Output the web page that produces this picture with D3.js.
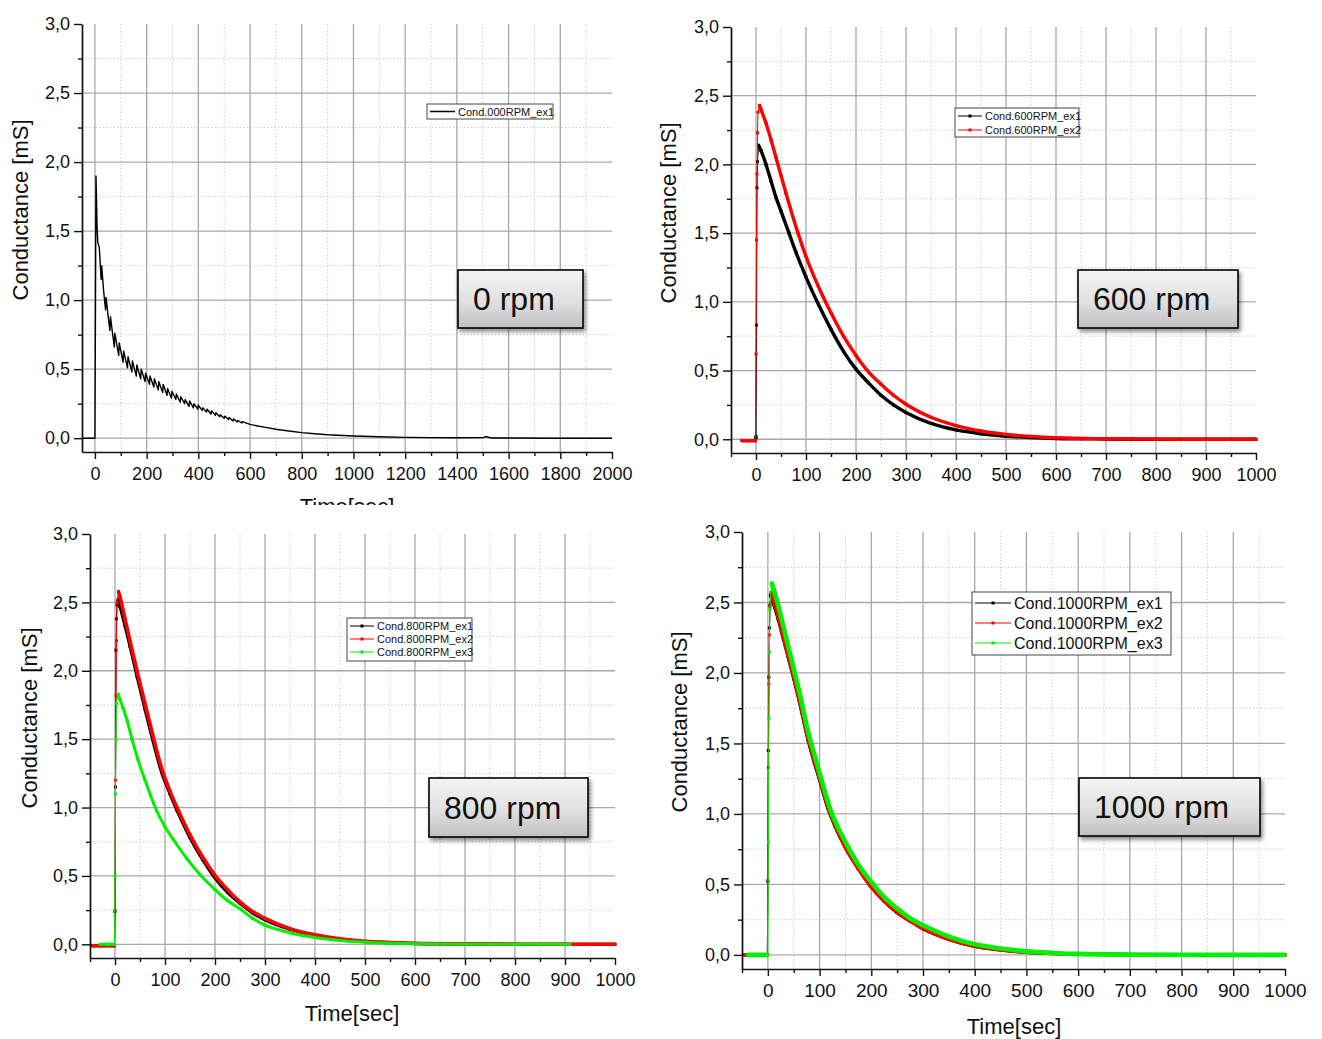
<!DOCTYPE html>
<html>
<head>
<meta charset="utf-8">
<script src="https://cdn.jsdelivr.net/npm/d3@7"></script>
<style>
  body { margin: 0; background: #fff; }
  svg { display: block; }
  text { font-family: "Liberation Sans", Arial, sans-serif; fill: #111; }
</style>
</head>
<body>
<svg id="chart" width="1322" height="1039"></svg>
<script>
// ---------- tick values and labels ----------
const yTicks = [0, 0.5, 1.0, 1.5, 2.0, 2.5, 3.0];
const yTickLabels = ["0,0", "0,5", "1,0", "1,5", "2,0", "2,5", "3,0"];
const yMinorTicks = [0.25, 0.75, 1.25, 1.75, 2.25, 2.75];
const xTicksLong = [0, 200, 400, 600, 800, 1000, 1200, 1400, 1600, 1800, 2000];
const xMinorLong = [100, 300, 500, 700, 900, 1100, 1300, 1500, 1700, 1900];
const xTicksShort = [0, 100, 200, 300, 400, 500, 600, 700, 800, 900, 1000];
const xMinorShort = [-50, 50, 150, 250, 350, 450, 550, 650, 750, 850, 950];

// ---------- 0 rpm, experiment 1 ----------
const t000ex1 = [-50, -20, 0, 2, 4, 6, 8, 11, 14, 17, 20, 24, 26, 33, 41, 43, 50, 58, 60, 75, 77, 92, 94,
  109, 111, 126, 128, 143, 145, 160, 162, 177, 179, 194, 196, 211, 213, 228, 230, 245, 247, 262, 264,
  279, 281, 296, 298, 313, 315, 330, 332, 347, 349, 364, 366, 381, 383, 398, 400, 415, 417, 432, 434,
  449, 451, 466, 468, 483, 485, 500, 502, 517, 519, 534, 536, 551, 553, 568, 570, 600, 630, 660, 700,
  750, 800, 850, 900, 1000, 1100, 1200, 1300, 1400, 1500, 1515, 1525, 1540, 1600, 1800, 2000];
const c000ex1 = [0, 0, 0, 0.9, 1.9, 1.75, 1.55, 1.42, 1.40, 1.38, 1.28, 1.15, 1.25, 1.08, 0.93, 1.02, 0.90, 0.78, 0.88, 0.66, 0.76, 0.60, 0.69,
  0.55, 0.63, 0.51, 0.59, 0.48, 0.56, 0.45, 0.53, 0.43, 0.50, 0.41, 0.47, 0.39, 0.45, 0.37, 0.43, 0.35, 0.41, 0.33, 0.39,
  0.31, 0.36, 0.29, 0.34, 0.28, 0.32, 0.26, 0.30, 0.25, 0.28, 0.23, 0.27, 0.22, 0.25, 0.21, 0.24, 0.20, 0.22, 0.19, 0.21,
  0.175, 0.20, 0.165, 0.185, 0.155, 0.17, 0.145, 0.16, 0.135, 0.15, 0.125, 0.14, 0.117, 0.128, 0.11, 0.12, 0.10, 0.088, 0.078, 0.065,
  0.052, 0.04, 0.032, 0.025, 0.016, 0.01, 0.006, 0.004, 0.003, 0.004, 0.012, 0.005, 0.001, 0.001, 0, 0];

// ---------- 600 rpm ----------
const t600ex1 = [-28, -15, -1, 0, 1, 2, 3, 5, 10, 20, 30, 40, 50, 66, 80, 100, 125, 150, 175, 200, 225, 250, 275, 300, 350, 400, 450, 500, 550, 600, 700, 800, 900, 1000];
const c600ex1 = [-0.01, -0.01, -0.01, 0.02, 0.83, 1.83, 2.02, 2.14, 2.10, 2.0, 1.88, 1.76, 1.66, 1.50, 1.36, 1.18, 0.98, 0.80, 0.64, 0.51, 0.41, 0.32, 0.25, 0.195, 0.115, 0.068, 0.04, 0.022, 0.012, 0.006, 0.002, 0, 0, 0];
const t600ex2 = [-28, -15, -1, 0, 1, 2, 3, 4, 7, 10, 20, 30, 40, 50, 60, 84, 100, 125, 150, 175, 200, 225, 250, 275, 300, 350, 400, 450, 500, 550, 600, 700, 800, 900, 1000];
const c600ex2 = [-0.01, -0.01, -0.01, 0.62, 1.45, 1.93, 2.23, 2.38, 2.43, 2.40, 2.30, 2.18, 2.05, 1.92, 1.79, 1.50, 1.33, 1.11, 0.92, 0.75, 0.61, 0.49, 0.40, 0.32, 0.255, 0.16, 0.10, 0.06, 0.035, 0.02, 0.011, 0.004, 0.001, 0, 0];

// ---------- 800 rpm ----------
const t800ex1 = [-45, -30, -1, 0, 1, 2, 3, 4, 6, 10, 20, 30, 44, 60, 75, 93, 110, 124, 150, 175, 197, 225, 250, 275, 300, 350, 400, 450, 500, 550, 600, 700, 800, 900, 1000];
const c800ex1 = [-0.01, -0.01, -0.01, 0.24, 1.15, 2.15, 2.38, 2.48, 2.52, 2.47, 2.33, 2.18, 1.96, 1.72, 1.50, 1.26, 1.10, 0.98, 0.78, 0.62, 0.50, 0.38, 0.30, 0.23, 0.18, 0.11, 0.065, 0.037, 0.02, 0.012, 0.006, 0.002, 0, 0, 0];
const t800ex2 = [-45, -30, -1, 0, 1, 2, 3, 4, 7, 10, 20, 30, 44, 60, 75, 93, 110, 124, 150, 175, 197, 225, 250, 275, 300, 350, 400, 450, 500, 550, 600, 700, 800, 900, 1000];
const c800ex2 = [-0.01, -0.01, -0.01, 0.25, 1.2, 1.82, 2.22, 2.5, 2.58, 2.54, 2.38, 2.22, 2.0, 1.76, 1.54, 1.29, 1.12, 1.0, 0.80, 0.64, 0.52, 0.40, 0.31, 0.24, 0.19, 0.115, 0.07, 0.04, 0.022, 0.013, 0.007, 0.003, 0.001, 0, 0];
const t800ex3 = [-30, -15, -1, 0, 1, 2, 3, 6, 10, 16, 24, 34, 46, 60, 83, 100, 116, 143, 170, 200, 225, 250, 275, 300, 350, 400, 450, 500, 550, 600, 700, 800, 910];
const c800ex3 = [0, 0, 0, 0.5, 1.1, 1.5, 1.76, 1.83, 1.79, 1.73, 1.64, 1.50, 1.35, 1.20, 0.98, 0.86, 0.77, 0.63, 0.51, 0.40, 0.32, 0.26, 0.19, 0.14, 0.085, 0.05, 0.028, 0.015, 0.008, 0.004, 0.001, 0, 0];

// ---------- 1000 rpm ----------
const t1000ex1 = [-45, -30, -1, 0, 1, 2, 3, 4, 5, 10, 20, 30, 40, 50, 60, 78, 90, 100, 116, 130, 150, 175, 198, 225, 250, 275, 300, 350, 400, 450, 500, 550, 600, 700, 800, 900, 1000];
const c1000ex1 = [0, 0, 0, 0.52, 1.45, 1.97, 2.32, 2.48, 2.55, 2.50, 2.38, 2.24, 2.10, 1.96, 1.81, 1.52, 1.36, 1.24, 1.04, 0.91, 0.76, 0.61, 0.49, 0.38, 0.30, 0.24, 0.185, 0.11, 0.06, 0.035, 0.018, 0.01, 0.005, 0.002, 0, 0, 0];
const t1000ex2 = [-45, -30, -1, 0, 1, 2, 3, 4, 6, 10, 20, 30, 40, 50, 60, 78, 90, 100, 116, 130, 150, 175, 198, 225, 250, 275, 300, 350, 400, 450, 500, 550, 600, 700, 800, 900, 1000];
const c1000ex2 = [0, 0, 0, 0.53, 1.33, 1.92, 2.27, 2.47, 2.57, 2.52, 2.40, 2.25, 2.11, 1.97, 1.82, 1.53, 1.37, 1.25, 1.05, 0.92, 0.76, 0.61, 0.49, 0.38, 0.30, 0.24, 0.185, 0.11, 0.06, 0.035, 0.018, 0.01, 0.005, 0.002, 0, 0, 0];
const t1000ex3 = [-40, -20, 0, 1, 2, 3, 4, 7, 10, 20, 30, 40, 50, 60, 78, 90, 100, 121, 150, 175, 204, 225, 250, 275, 300, 350, 400, 450, 500, 550, 600, 700, 800, 900, 1000];
const c1000ex3 = [0, 0, 0, 0.8, 1.68, 2.15, 2.45, 2.64, 2.61, 2.48, 2.33, 2.18, 2.03, 1.88, 1.58, 1.42, 1.29, 1.03, 0.80, 0.64, 0.50, 0.41, 0.33, 0.26, 0.21, 0.13, 0.075, 0.045, 0.025, 0.014, 0.007, 0.003, 0.001, 0, 0];

// ---------- panel layout ----------
const panels = [
  {
    left: 82, right: 612, top: 24, bottom: 452, xMin: -50, xMax: 2000,
    xTicks: xTicksLong, xMinor: xMinorLong, xTickFont: 18,
    series: [{ name: "Cond.000RPM_ex1", t: t000ex1, v: c000ex1, color: "#000", width: 1.4, markers: false }],
    legend: { x: 427, y: 104, w: 126, h: 15, first: 7.5, step: 14, font: 11, lineLen: 25 },
    label: { text: "0 rpm", x: 458, y: 270, w: 125, h: 58 },
    yTitle: { x: 20, y: 210 },
    xTitle: { x: 347, y: 514, clipped: true }
  },
  {
    left: 731, right: 1256, top: 27, bottom: 453, xMin: -50, xMax: 1000,
    xTicks: xTicksShort, xMinor: xMinorShort, xTickFont: 18,
    series: [
      { name: "Cond.600RPM_ex1", t: t600ex1, v: c600ex1, color: "#000", width: 3.4, markers: true },
      { name: "Cond.600RPM_ex2", t: t600ex2, v: c600ex2, color: "#ff0000", width: 3.4, markers: true }
    ],
    legend: { x: 955, y: 108, w: 124, h: 29, first: 8, step: 14, font: 11, lineLen: 24 },
    label: { text: "600 rpm", x: 1078, y: 270, w: 160, h: 58 },
    yTitle: { x: 668, y: 213 },
    xTitle: null
  },
  {
    left: 90, right: 615, top: 534, bottom: 958, xMin: -50, xMax: 1000,
    xTicks: xTicksShort, xMinor: xMinorShort, xTickFont: 18,
    series: [
      { name: "Cond.800RPM_ex1", t: t800ex1, v: c800ex1, color: "#000", width: 3.2, markers: true },
      { name: "Cond.800RPM_ex2", t: t800ex2, v: c800ex2, color: "#ff0000", width: 3.6, markers: true },
      { name: "Cond.800RPM_ex3", t: t800ex3, v: c800ex3, color: "#00f000", width: 3.0, markers: true }
    ],
    legend: { x: 347, y: 618, w: 125, h: 43, first: 8, step: 13, font: 11, lineLen: 24 },
    label: { text: "800 rpm", x: 429, y: 778, w: 159, h: 59 },
    yTitle: { x: 29, y: 718 },
    xTitle: { x: 352, y: 1021, clipped: false }
  },
  {
    left: 742, right: 1285, top: 532, bottom: 969, xMin: -50, xMax: 1000,
    xTicks: xTicksShort, xMinor: xMinorShort, xTickFont: 19,
    series: [
      { name: "Cond.1000RPM_ex1", t: t1000ex1, v: c1000ex1, color: "#000", width: 3.2, markers: true },
      { name: "Cond.1000RPM_ex2", t: t1000ex2, v: c1000ex2, color: "#ff0000", width: 3.4, markers: true },
      { name: "Cond.1000RPM_ex3", t: t1000ex3, v: c1000ex3, color: "#00f000", width: 4.6, markers: true }
    ],
    legend: { x: 972, y: 592, w: 199, h: 63, first: 11, step: 20, font: 16, lineLen: 36 },
    label: { text: "1000 rpm", x: 1079, y: 778, w: 181, h: 58 },
    yTitle: { x: 679, y: 722 },
    xTitle: { x: 1014, y: 1034, clipped: false }
  }
];

const svg = d3.select("#chart");
const defs = svg.append("defs");

const grad = defs.append("linearGradient").attr("id", "boxFill")
  .attr("x1", 0).attr("y1", 0).attr("x2", 0).attr("y2", 1);
grad.append("stop").attr("offset", "0%").attr("stop-color", "#f5f5f5");
grad.append("stop").attr("offset", "55%").attr("stop-color", "#e0e0e0");
grad.append("stop").attr("offset", "100%").attr("stop-color", "#c0c0c0");

const shadow = defs.append("filter").attr("id", "shadow")
  .attr("x", "-10%").attr("y", "-10%").attr("width", "130%").attr("height", "150%");
shadow.append("feDropShadow").attr("dx", 2).attr("dy", 3).attr("stdDeviation", 2)
  .attr("flood-color", "#000").attr("flood-opacity", 0.45);

defs.append("clipPath").attr("id", "topClip")
  .append("rect").attr("x", 0).attr("y", 0).attr("width", 661).attr("height", 505);

panels.forEach(p => {
  const g = svg.append("g");
  const x = d3.scaleLinear().domain([p.xMin, p.xMax]).range([p.left, p.right]);
  const y = d3.scaleLinear().domain([-0.1, 3.0]).range([p.bottom, p.top]);

  // grid: dotted minor lines first, solid major lines above them
  const grid = g.append("g");
  grid.selectAll(".vminor").data(p.xMinor.filter(d => d > p.xMin)).join("line")
    .attr("x1", d => x(d)).attr("x2", d => x(d)).attr("y1", y(3.0)).attr("y2", p.bottom)
    .attr("stroke", "#cfcfcf").attr("stroke-width", 1).attr("stroke-dasharray", "1.5,2");
  grid.selectAll(".hminor").data(yMinorTicks).join("line")
    .attr("x1", p.left).attr("x2", p.right).attr("y1", d => y(d)).attr("y2", d => y(d))
    .attr("stroke", "#cfcfcf").attr("stroke-width", 1).attr("stroke-dasharray", "1.5,2");
  grid.selectAll(".vmajor").data(p.xTicks.filter(d => d < p.xMax)).join("line")
    .attr("x1", d => x(d)).attr("x2", d => x(d)).attr("y1", y(3.0)).attr("y2", p.bottom)
    .attr("stroke", "#a8a8a8").attr("stroke-width", 1.3);
  grid.selectAll(".hmajor").data(yTicks.filter(d => d < 3.0)).join("line")
    .attr("x1", p.left).attr("x2", p.right).attr("y1", d => y(d)).attr("y2", d => y(d))
    .attr("stroke", "#a8a8a8").attr("stroke-width", 1.3);

  // data series
  const plot = g.append("g");
  p.series.forEach(s => {
    const pts = s.t.map((t, i) => ({ t, v: s.v[i] }));
    const peak = d3.maxIndex(pts, d => d.v);
    const onRise = (d, i) => i < peak && d.v > 0.05;
    const smooth = d3.line().curve(d3.curveMonotoneX).x(d => x(d.t)).y(d => y(d.v));
    if (s.markers) {
      plot.append("path").datum(pts)
        .attr("d", d3.line().x(d => x(d.t)).y(d => y(d.v)))
        .attr("fill", "none").attr("stroke", s.color).attr("stroke-width", 1);
      plot.append("path").datum(pts)
        .attr("d", smooth.defined((d, i) => !onRise(d, i)))
        .attr("fill", "none").attr("stroke", s.color).attr("stroke-width", s.width)
        .attr("stroke-linejoin", "round");
      plot.append("g").selectAll("rect").data(pts).join("rect")
        .attr("x", d => x(d.t) - 1.5).attr("y", d => y(d.v) - 1.5)
        .attr("width", 3).attr("height", 3).attr("fill", s.color);
    } else {
      plot.append("path").datum(pts)
        .attr("d", d3.line().x(d => x(d.t)).y(d => y(d.v)))
        .attr("fill", "none").attr("stroke", s.color).attr("stroke-width", s.width)
        .attr("stroke-linejoin", "round");
    }
  });

  // axes
  const fmt = d => yTickLabels[yTicks.indexOf(d)];
  const yAxis = g.append("g").attr("transform", `translate(${p.left},0)`)
    .call(d3.axisLeft(y).tickValues(yTicks).tickFormat(fmt).tickSize(8).tickSizeOuter(0).tickPadding(4));
  g.append("g").attr("transform", `translate(${p.left},0)`)
    .call(d3.axisLeft(y).tickValues(yMinorTicks).tickFormat("").tickSize(4).tickSizeOuter(0))
    .call(a => a.select(".domain").remove());
  const xAxis = g.append("g").attr("transform", `translate(0,${p.bottom})`)
    .call(d3.axisBottom(x).tickValues(p.xTicks).tickFormat(d3.format("d")).tickSize(7).tickSizeOuter(0).tickPadding(8));
  g.append("g").attr("transform", `translate(0,${p.bottom})`)
    .call(d3.axisBottom(x).tickValues(p.xMinor).tickFormat("").tickSize(4).tickSizeOuter(0))
    .call(a => a.select(".domain").remove());

  g.selectAll(".domain").attr("stroke", "#111").attr("stroke-width", 1.7);
  g.selectAll(".tick line").attr("stroke", "#111").attr("stroke-width", 1.4);
  yAxis.selectAll("text").attr("font-size", 18).attr("font-family", "Liberation Sans, Arial, sans-serif").attr("fill", "#111");
  xAxis.selectAll("text").attr("font-size", p.xTickFont).attr("font-family", "Liberation Sans, Arial, sans-serif").attr("fill", "#111");

  // axis titles
  g.append("text")
    .attr("transform", `translate(${p.yTitle.x},${p.yTitle.y}) rotate(-90)`)
    .attr("text-anchor", "middle").attr("dominant-baseline", "central")
    .attr("font-size", 22).text("Conductance [mS]");
  if (p.xTitle) {
    const t = g.append("text").attr("x", p.xTitle.x).attr("y", p.xTitle.y)
      .attr("text-anchor", "middle").attr("font-size", 22).text("Time[sec]");
    if (p.xTitle.clipped) t.attr("clip-path", "url(#topClip)");
  }

  // legend
  const L = p.legend;
  const lg = g.append("g");
  lg.append("rect").attr("x", L.x).attr("y", L.y).attr("width", L.w).attr("height", L.h)
    .attr("fill", "#fff").attr("stroke", "#444").attr("stroke-width", 1);
  p.series.forEach((s, i) => {
    const cy = L.y + L.first + i * L.step;
    lg.append("line").attr("x1", L.x + 3).attr("x2", L.x + 3 + L.lineLen)
      .attr("y1", cy).attr("y2", cy).attr("stroke", s.color).attr("stroke-width", s.markers ? 1 : 1.5);
    if (s.markers) {
      lg.append("rect").attr("x", L.x + 3 + L.lineLen / 2 - 1.5).attr("y", cy - 1.5)
        .attr("width", 3).attr("height", 3).attr("fill", s.color);
    }
    lg.append("text").attr("x", L.x + L.lineLen + 6).attr("y", cy)
      .attr("dominant-baseline", "central").attr("font-size", L.font).text(s.name);
  });

  // speed label box
  const B = p.label;
  g.append("rect").attr("x", B.x).attr("y", B.y).attr("width", B.w).attr("height", B.h)
    .attr("fill", "url(#boxFill)").attr("stroke", "#000").attr("stroke-width", 1.6)
    .attr("filter", "url(#shadow)");
  g.append("text").attr("x", B.x + 15).attr("y", B.y + B.h / 2 + 11)
    .attr("font-family", "Lato, 'Open Sans', sans-serif").attr("font-size", 32)
    .attr("fill", "#000").text(B.text);
});
</script>
</body>
</html>
